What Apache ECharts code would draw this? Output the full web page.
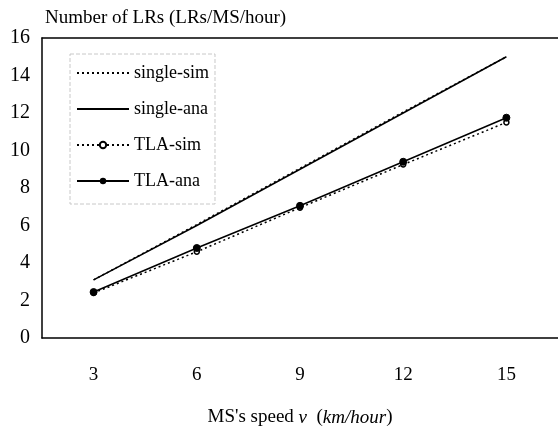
<!DOCTYPE html>
<html>
<head>
<meta charset="utf-8">
<script src="https://cdn.jsdelivr.net/npm/echarts@6/dist/echarts.min.js"></script>
<style>
  html, body { margin: 0; padding: 0; background: #fff; }
  #chart { width: 558px; height: 432px; }
</style>
</head>
<body>
<div id="chart"></div>
<script>
// MS speed categories (km/hour)
var speeds = ['3', '6', '9', '12', '15'];
// number of LRs per MS per hour
var singleSim = [3.1, 6.05, 9.05, 12.05, 15.0];
var singleAna = [3.1, 6.0, 9.0, 12.0, 15.0];
var tlaSim = [2.4, 4.6, 6.95, 9.25, 11.5];
var tlaAna = [2.45, 4.8, 7.05, 9.4, 11.75];

var serif = 'Liberation Serif';
var myChart = echarts.init(document.getElementById('chart'));

// no marker on the plain line legend entries
var noMark = { color: 'rgba(0,0,0,0)', borderWidth: 0 };

myChart.setOption({
    animation: false,
    backgroundColor: '#fff',
    title: {
        text: 'Number of LRs (LRs/MS/hour)',
        left: 40,
        top: 4,
        textStyle: { fontFamily: serif, fontSize: 19, fontWeight: 'normal', color: '#000' }
    },
    grid: { left: 42, right: -2, top: 38, bottom: 88 },
    legend: {
        orient: 'vertical',
        left: 70,
        top: 54,
        itemWidth: 52,
        itemHeight: 8,
        itemGap: 18,
        padding: [10, 6, 14, 6],
        borderColor: '#c8c8c8',
        borderWidth: 1,
        borderType: 'dashed',
        textStyle: { fontFamily: serif, fontSize: 18, color: '#000' },
        data: [
            { name: 'single-sim', itemStyle: noMark },
            { name: 'single-ana', itemStyle: noMark },
            'TLA-sim',
            'TLA-ana'
        ]
    },
    xAxis: [{
        type: 'category',
        data: speeds,
        boundaryGap: true,
        axisLine: { lineStyle: { color: '#000', width: 1.5 } },
        axisTick: { inside: true, alignWithLabel: true, length: 5, lineStyle: { color: '#000' } },
        axisLabel: { fontFamily: serif, fontSize: 19, color: '#000', margin: 28 },
        name: '{n|MS\'s speed }{i|v}{n|  (}{i|km/hour}{n|)}',
        nameLocation: 'middle',
        nameGap: 70,
        nameTextStyle: {
            rich: {
                n: { fontFamily: serif, fontSize: 19, color: '#000' },
                i: { fontFamily: serif, fontSize: 19, fontStyle: 'italic', color: '#000' }
            }
        }
    }, {
        // top frame line only
        type: 'category',
        data: speeds,
        position: 'top',
        axisLine: { lineStyle: { color: '#000', width: 1.5 } },
        axisTick: { show: false },
        axisLabel: { show: false }
    }],
    yAxis: {
        type: 'value',
        min: 0,
        max: 16,
        interval: 2,
        axisLine: { show: true, lineStyle: { color: '#000', width: 1.5 } },
        axisTick: { show: false },
        splitLine: { show: false },
        axisLabel: { fontFamily: serif, fontSize: 20, color: '#000', margin: 12 }
    },
    series: [
        {
            name: 'single-sim', type: 'line', data: singleSim,
            symbol: 'none',
            lineStyle: { color: '#000', width: 1.5, type: [2, 3] },
            itemStyle: { color: '#000' }
        },
        {
            name: 'single-ana', type: 'line', data: singleAna,
            symbol: 'none',
            lineStyle: { color: '#000', width: 1.5 },
            itemStyle: { color: '#000' }
        },
        {
            name: 'TLA-sim', type: 'line', data: tlaSim,
            symbol: 'circle', symbolSize: 5,
            lineStyle: { color: '#000', width: 1.5, type: [2, 3] },
            itemStyle: { color: '#fff', borderColor: '#000', borderWidth: 1.5 }
        },
        {
            name: 'TLA-ana', type: 'line', data: tlaAna,
            symbol: 'circle', symbolSize: 7,
            lineStyle: { color: '#000', width: 1.5 },
            itemStyle: { color: '#000', borderColor: '#000' }
        }
    ]
});
</script>
</body>
</html>
